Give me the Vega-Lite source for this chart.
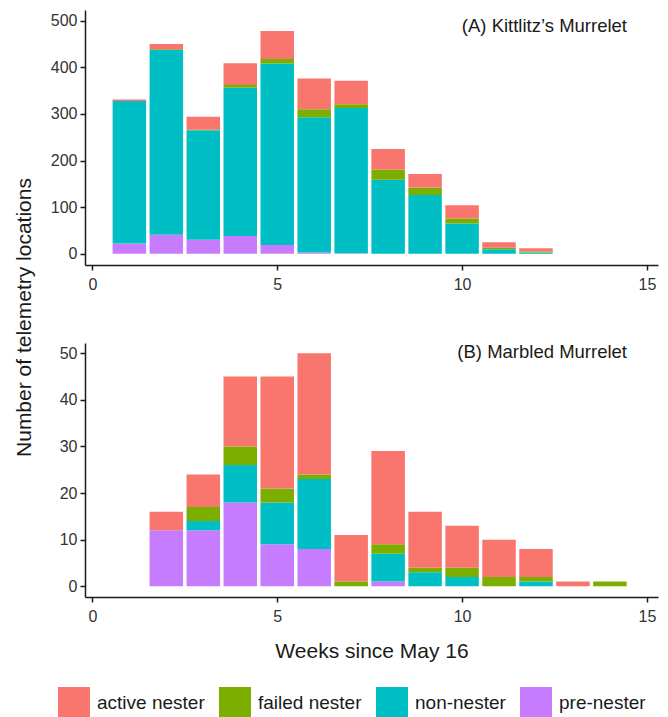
{
  "$schema": "https://vega.github.io/schema/vega-lite/v6.json",
  "padding": {"left": 13, "top": 10, "right": 10, "bottom": 0},
  "background": "white",
  "bounds": "flush",
  "spacing": 78,
  "datasets": {
    "kittlitz": [
      {"week": 1, "status": "pre-nester", "count": 22},
      {"week": 1, "status": "non-nester", "count": 306},
      {"week": 1, "status": "active nester", "count": 3},
      {"week": 2, "status": "pre-nester", "count": 41},
      {"week": 2, "status": "non-nester", "count": 396},
      {"week": 2, "status": "failed nester", "count": 2},
      {"week": 2, "status": "active nester", "count": 11},
      {"week": 3, "status": "pre-nester", "count": 30},
      {"week": 3, "status": "non-nester", "count": 235},
      {"week": 3, "status": "failed nester", "count": 1},
      {"week": 3, "status": "active nester", "count": 28},
      {"week": 4, "status": "pre-nester", "count": 38},
      {"week": 4, "status": "non-nester", "count": 318},
      {"week": 4, "status": "failed nester", "count": 6},
      {"week": 4, "status": "active nester", "count": 47},
      {"week": 5, "status": "pre-nester", "count": 19},
      {"week": 5, "status": "non-nester", "count": 389},
      {"week": 5, "status": "failed nester", "count": 10},
      {"week": 5, "status": "active nester", "count": 60},
      {"week": 6, "status": "pre-nester", "count": 3},
      {"week": 6, "status": "non-nester", "count": 290},
      {"week": 6, "status": "failed nester", "count": 17},
      {"week": 6, "status": "active nester", "count": 66},
      {"week": 7, "status": "pre-nester", "count": 1},
      {"week": 7, "status": "non-nester", "count": 312},
      {"week": 7, "status": "failed nester", "count": 8},
      {"week": 7, "status": "active nester", "count": 50},
      {"week": 8, "status": "non-nester", "count": 159},
      {"week": 8, "status": "failed nester", "count": 22},
      {"week": 8, "status": "active nester", "count": 44},
      {"week": 9, "status": "non-nester", "count": 126},
      {"week": 9, "status": "failed nester", "count": 16},
      {"week": 9, "status": "active nester", "count": 29},
      {"week": 10, "status": "non-nester", "count": 65},
      {"week": 10, "status": "failed nester", "count": 11},
      {"week": 10, "status": "active nester", "count": 28},
      {"week": 11, "status": "non-nester", "count": 10},
      {"week": 11, "status": "failed nester", "count": 3},
      {"week": 11, "status": "active nester", "count": 12},
      {"week": 12, "status": "non-nester", "count": 3},
      {"week": 12, "status": "failed nester", "count": 2},
      {"week": 12, "status": "active nester", "count": 7}
    ],
    "marbled": [
      {"week": 2, "status": "pre-nester", "count": 12},
      {"week": 2, "status": "active nester", "count": 4},
      {"week": 3, "status": "pre-nester", "count": 12},
      {"week": 3, "status": "non-nester", "count": 2},
      {"week": 3, "status": "failed nester", "count": 3},
      {"week": 3, "status": "active nester", "count": 7},
      {"week": 4, "status": "pre-nester", "count": 18},
      {"week": 4, "status": "non-nester", "count": 8},
      {"week": 4, "status": "failed nester", "count": 4},
      {"week": 4, "status": "active nester", "count": 15},
      {"week": 5, "status": "pre-nester", "count": 9},
      {"week": 5, "status": "non-nester", "count": 9},
      {"week": 5, "status": "failed nester", "count": 3},
      {"week": 5, "status": "active nester", "count": 24},
      {"week": 6, "status": "pre-nester", "count": 8},
      {"week": 6, "status": "non-nester", "count": 15},
      {"week": 6, "status": "failed nester", "count": 1},
      {"week": 6, "status": "active nester", "count": 26},
      {"week": 7, "status": "failed nester", "count": 1},
      {"week": 7, "status": "active nester", "count": 10},
      {"week": 8, "status": "pre-nester", "count": 1},
      {"week": 8, "status": "non-nester", "count": 6},
      {"week": 8, "status": "failed nester", "count": 2},
      {"week": 8, "status": "active nester", "count": 20},
      {"week": 9, "status": "non-nester", "count": 3},
      {"week": 9, "status": "failed nester", "count": 1},
      {"week": 9, "status": "active nester", "count": 12},
      {"week": 10, "status": "non-nester", "count": 2},
      {"week": 10, "status": "failed nester", "count": 2},
      {"week": 10, "status": "active nester", "count": 9},
      {"week": 11, "status": "failed nester", "count": 2},
      {"week": 11, "status": "active nester", "count": 8},
      {"week": 12, "status": "non-nester", "count": 1},
      {"week": 12, "status": "failed nester", "count": 1},
      {"week": 12, "status": "active nester", "count": 6},
      {"week": 13, "status": "active nester", "count": 1},
      {"week": 14, "status": "failed nester", "count": 1}
    ]
  },
  "config": {
    "font": "Liberation Sans",
    "view": {"stroke": null},
    "axis": {
      "grid": false,
      "domainColor": "#1a1a1a",
      "domainWidth": 1.5,
      "tickColor": "#1a1a1a",
      "tickWidth": 1.5,
      "tickSize": 5,
      "labelColor": "#333333",
      "labelFontSize": 16,
      "titleFontSize": 21,
      "titleFontWeight": "normal",
      "titleColor": "#1a1a1a"
    },
    "axisX": {"labelPadding": 6},
    "axisY": {"labelPadding": 3},
    "title": {"fontSize": 18.5, "fontWeight": "normal", "color": "#1a1a1a", "anchor": "end"}
  },
  "vconcat": [
    {
      "data": {"name": "kittlitz"},
      "width": 573,
      "height": 255,
      "title": {"text": "(A) Kittlitz’s Murrelet", "dx": -31, "dy": 29},
      "mark": {"type": "bar", "width": 33.5},
      "encoding": {
        "x": {"field": "week", "type": "quantitative",
              "scale": {"domain": [-0.2, 15.3], "nice": false, "zero": false, "padding": 0},
              "axis": {"values": [0, 5, 10, 15], "title": null, "labelFlush": false}},
        "y": {"field": "count", "type": "quantitative", "stack": "zero",
              "scale": {"domain": [-24, 523], "nice": false},
              "axis": {"values": [0, 100, 200, 300, 400, 500], "title": "Number of telemetry locations",
                       "titleX": -55, "titleY": 307, "titleAlign": "center", "titleBaseline": "alphabetic", "titleAngle": -90}},
        "color": {"field": "status", "type": "nominal",
                  "scale": {"domain": ["active nester", "failed nester", "non-nester", "pre-nester"],
                            "range": ["#F8766D", "#7CAE00", "#00BFC4", "#C77CFF"]},
                  "legend": {"title": null, "orient": "none", "direction": "horizontal", "legendX": -27, "legendY": 677, "padding": 0,
                             "symbolType": "square", "symbolSize": 1024, "symbolStrokeWidth": 0, "symbolOpacity": 1,
                             "labelFontSize": 19, "labelColor": "#1a1a1a", "labelOffset": 7, "columnPadding": 14}},
        "order": {"field": "status", "sort": "descending"}
      }
    },
    {
      "data": {"name": "marbled"},
      "width": 573,
      "height": 254,
      "title": {"text": "(B) Marbled Murrelet", "dx": -31, "dy": 22.5},
      "mark": {"type": "bar", "width": 33.5},
      "encoding": {
        "x": {"field": "week", "type": "quantitative",
              "scale": {"domain": [-0.2, 15.3], "nice": false, "zero": false, "padding": 0},
              "axis": {"values": [0, 5, 10, 15], "title": "Weeks since May 16", "labelFlush": false, "titlePadding": 16}},
        "y": {"field": "count", "type": "quantitative", "stack": "zero",
              "scale": {"domain": [-2.3, 52.2], "nice": false},
              "axis": {"values": [0, 10, 20, 30, 40, 50], "title": null}},
        "color": {"field": "status", "type": "nominal",
                  "scale": {"domain": ["active nester", "failed nester", "non-nester", "pre-nester"],
                            "range": ["#F8766D", "#7CAE00", "#00BFC4", "#C77CFF"]}},
        "order": {"field": "status", "sort": "descending"}
      }
    }
  ]
}
